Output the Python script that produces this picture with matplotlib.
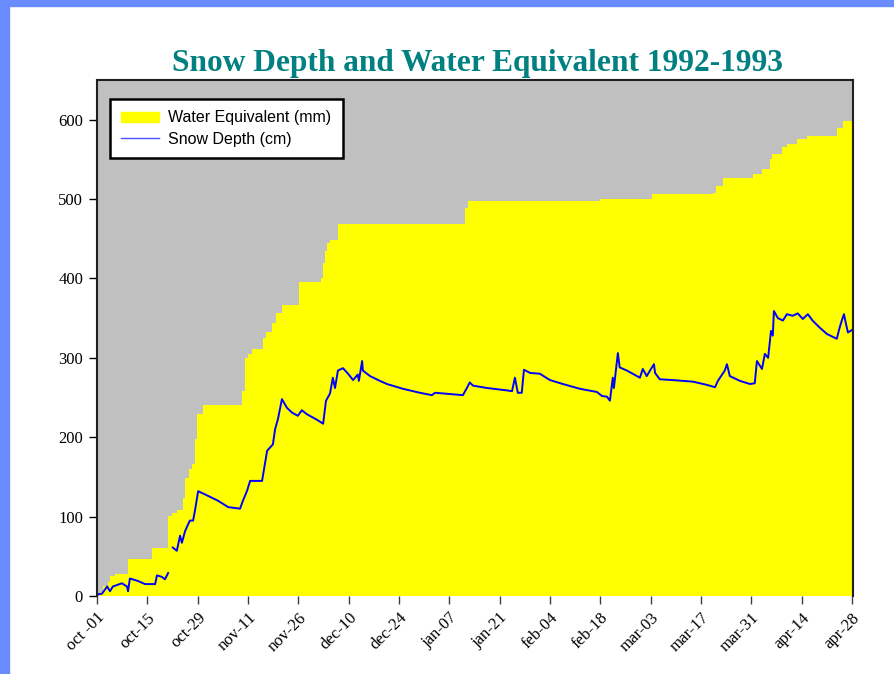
import numpy as np
import matplotlib
matplotlib.use('Agg')
import matplotlib.pyplot as plt
from matplotlib.patches import Rectangle

# days since oct-01 1992
we_days = [0, 0.8, 1.7, 3.0, 3.6, 5.0, 8.6, 15.2, 19.7, 20.8, 22.1, 23.8, 24.4, 25.5,
           26.3, 27.1, 27.7, 29.3, 40.1, 41.0, 41.8, 42.9, 45.9, 46.8, 48.4, 49.5,
           51.2, 55.9, 62.0, 62.6, 63.1, 63.7, 64.5, 66.7, 101.9, 102.7, 139.2,
           153.6, 170.5, 171.3, 173.3, 181.6, 184.1, 186.3, 186.8, 189.6, 191.0,
           193.8, 196.5, 204.8, 206.5, 209.3]
we_mm = [0, 5, 12, 18, 25, 28, 47, 60, 101, 104, 108, 124, 149, 160,
         166, 198, 229, 240, 258, 300, 305, 311, 325, 332, 344, 357,
         366, 396, 401, 420, 435, 445, 449, 469, 489, 498, 500,
         507, 508, 517, 526, 532, 538, 551, 557, 565, 570,
         576, 580, 590, 598, 600]

sd_days = [0, 1.4, 2.8, 3.6, 4.4, 6.9, 8.3, 8.6, 9.1, 11.3, 13.3, 16.1, 16.6, 18.0,
           18.8, 19.7, 20.3,
           21.0, 22.1, 23.0, 23.5, 24.4, 25.7, 26.6, 27.1, 28.0, 29.9, 33.5, 36.3,
           39.6, 40.4, 41.5, 42.4, 44.3, 45.7, 47.1, 48.7, 49.3, 50.1, 51.2, 52.6,
           54.0, 55.6, 56.7, 58.1, 60.9, 62.6, 63.4, 64.5, 65.3, 65.9, 66.7, 68.1,
           69.5, 70.9, 72.2, 72.5, 73.4, 73.6, 75.6, 78.3, 80.3, 84.7, 89.4, 92.7,
           93.6, 101.3, 102.4, 103.2, 104.1, 108.0, 113.5, 114.9, 115.7, 116.5,
           117.6, 118.2, 119.9, 122.6, 125.4, 129.0, 133.7, 138.4, 139.8, 141.2,
           142.0, 142.8, 143.1, 144.2, 144.7, 146.7, 150.3, 151.1, 152.2, 153.1,
           154.2, 154.5, 155.8, 159.4, 165.0, 168.8, 171.1, 171.9, 173.8, 174.4,
           175.2, 178.0, 180.8, 182.1, 182.7, 184.1, 184.9, 185.8, 186.6, 187.1,
           187.4, 188.5, 189.9, 191.0, 192.6, 194.0, 195.4, 196.8, 198.1, 200.1,
           202.1, 204.8, 205.6, 206.2, 206.8, 207.3, 207.9, 209.0]
sd_cm = [2, 3, 12, 6, 12, 16, 12, 6, 22, 19, 15, 15, 26, 24,
         21, 29, np.nan,
         61, 57, 76, 67, 82, 95, 95, 107, 132, 128, 120, 112,
         110, 120, 132, 145, 145, 145, 183, 191, 210, 223, 248, 237,
         231, 227, 234, 229, 222, 217, 246, 255, 275, 262, 284, 287,
         280, 272, 279, 271, 296, 284, 277, 271, 267, 261, 256, 253,
         256, 253, 262, 269, 265, 262, 259, 258, 275, 256,
         256, 285, 281, 280, 272, 267, 261, 257, 252, 251,
         246, 275, 262, 306, 288, 284, 275, 286, 277, 284,
         292, 281, 273, 272, 270, 266, 263, 271, 284, 292,
         277, 271, 267, 268, 296, 286, 305, 300, 334, 328,
         359, 350, 347, 355, 353, 356, 349, 355, 347, 338,
         330, 324, 338, 347, 355, 344, 332, 335]

tick_labels = ['oct -01', 'oct-15', 'oct-29', 'nov-11', 'nov-26', 'dec-10', 'dec-24',
               'jan-07', 'jan-21', 'feb-04', 'feb-18', 'mar-03', 'mar-17', 'mar-31',
               'apr-14', 'apr-28']
y_ticks = [0, 100, 200, 300, 400, 500, 600]

fig = plt.figure(figsize=(8.94, 6.74), dpi=100)
fig.patch.set_facecolor('white')
# blue frame strips on the slide
fig.patches.append(Rectangle((0, 0), 9 / 894, 1, transform=fig.transFigure,
                             color='#6b8cff', zorder=0))
fig.patches.append(Rectangle((0, 1 - 6 / 674), 1, 6 / 674, transform=fig.transFigure,
                             color='#6b8cff', zorder=0))

ax = fig.add_axes([97 / 894, 1 - 596 / 674, 756 / 894, 516 / 674])
ax.set_facecolor('#c0c0c0')

ax.fill_between(we_days, we_mm, 0, step='post', color='#ffff00', linewidth=0,
                label='Water Equivalent (mm)')
ax.plot(sd_days, sd_cm, color='#0000ff', linewidth=1.4, label='Snow Depth (cm)')

ax.set_xlim(0, 209.3)
ax.set_ylim(0, 650)
ax.set_xticks(np.linspace(0, 209, 16))
ax.set_xticklabels(tick_labels, rotation=45, ha='right', rotation_mode='anchor',
                   family='Liberation Serif', fontsize=12)
ax.set_yticks(y_ticks)
ax.set_yticklabels([str(v) for v in y_ticks], family='Liberation Serif', fontsize=12)
ax.tick_params(axis='x', length=6, width=1, color='#404040', pad=4)
ax.tick_params(axis='y', length=6, width=1, color='black', pad=4)

for s in ['left', 'top', 'right']:
    ax.spines[s].set_color('#202020')
    ax.spines[s].set_linewidth(1.5)
ax.spines['bottom'].set_visible(False)

fig.text(0.534, 1 - 64 / 674, 'Snow Depth and Water Equivalent 1992-1993',
         ha='center', va='center', color='#008080', fontsize=22.6, fontweight='bold',
         family='Liberation Serif')

handles = [plt.Rectangle((0, 0), 1, 1, color='#ffff00'),
           plt.Line2D([0], [0], color='#5050ff', linewidth=1)]
leg = ax.legend(handles, ['Water Equivalent (mm)', 'Snow Depth (cm)'],
                loc='upper left', bbox_to_anchor=(0.017, 0.963), borderaxespad=0,
                fancybox=False, framealpha=1, edgecolor='black',
                prop={'family': 'Liberation Sans', 'size': 11.5},
                handlelength=2.4, handleheight=0.6, labelspacing=0.4,
                borderpad=0.7, handletextpad=0.56)
leg.get_frame().set_linewidth(1.8)

fig.savefig('out.png', dpi=100)
